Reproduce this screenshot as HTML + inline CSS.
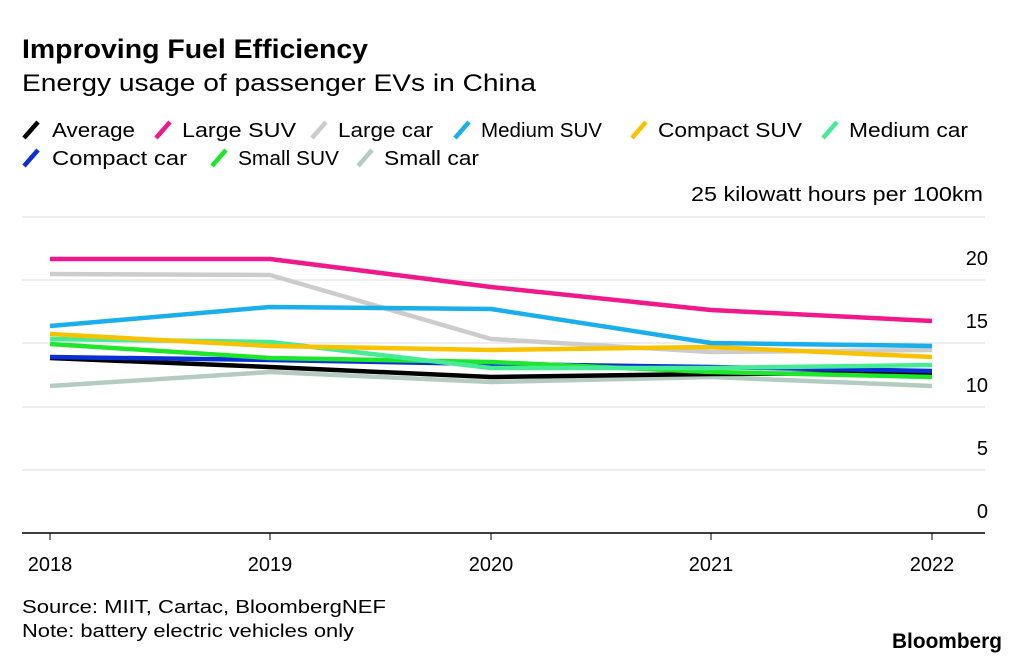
<!DOCTYPE html>
<html><head><meta charset="utf-8"><style>
body{margin:0;background:#fff;width:1024px;height:662px;overflow:hidden;font-family:"Liberation Sans",sans-serif}
</style></head><body>
<svg width="1024" height="662" xmlns="http://www.w3.org/2000/svg" font-family="Liberation Sans, sans-serif">
<text x="22" y="58" font-size="27" font-weight="bold" fill="#000" textLength="346" lengthAdjust="spacingAndGlyphs">Improving Fuel Efficiency</text>
<text x="22" y="91" font-size="24" fill="#000" textLength="514" lengthAdjust="spacingAndGlyphs">Energy usage of passenger EVs in China</text>
<g font-size="20" fill="#000" stroke-width="4.5" stroke-linecap="butt">
<line x1="24" y1="138" x2="38" y2="122" stroke="#000"/><text x="52" y="137" textLength="83" lengthAdjust="spacingAndGlyphs">Average</text>
<line x1="156" y1="138" x2="170" y2="122" stroke="#f0198c"/><text x="182" y="137" textLength="114" lengthAdjust="spacingAndGlyphs">Large SUV</text>
<line x1="312" y1="138" x2="326" y2="122" stroke="#cccccc"/><text x="338" y="137" textLength="95" lengthAdjust="spacingAndGlyphs">Large car</text>
<line x1="455" y1="138" x2="469" y2="122" stroke="#1aaeeb"/><text x="481" y="137" textLength="121" lengthAdjust="spacingAndGlyphs">Medium SUV</text>
<line x1="632" y1="138" x2="646" y2="122" stroke="#f7c200"/><text x="658" y="137" textLength="144" lengthAdjust="spacingAndGlyphs">Compact SUV</text>
<line x1="823" y1="138" x2="837" y2="122" stroke="#46eb96"/><text x="849" y="137" textLength="119" lengthAdjust="spacingAndGlyphs">Medium car</text>
<line x1="24" y1="166" x2="38" y2="150" stroke="#0a2fd6"/><text x="52" y="165" textLength="135" lengthAdjust="spacingAndGlyphs">Compact car</text>
<line x1="212" y1="166" x2="226" y2="150" stroke="#1ee62a"/><text x="238" y="165" textLength="101" lengthAdjust="spacingAndGlyphs">Small SUV</text>
<line x1="358" y1="166" x2="372" y2="150" stroke="#b4cbc2"/><text x="384" y="165" textLength="95" lengthAdjust="spacingAndGlyphs">Small car</text>
</g>
<g stroke="#dcdcdc" stroke-width="1">
<line x1="22" y1="217" x2="985" y2="217"/><line x1="22" y1="280" x2="985" y2="280"/>
<line x1="22" y1="343" x2="985" y2="343"/><line x1="22" y1="407" x2="985" y2="407"/>
<line x1="22" y1="470" x2="985" y2="470"/>
</g>
<line x1="22" y1="533" x2="985" y2="533" stroke="#000" stroke-width="1.5"/>
<g stroke="#000" stroke-width="1"><line x1="50" y1="533" x2="50" y2="540"/><line x1="270" y1="533" x2="270" y2="540"/><line x1="491" y1="533" x2="491" y2="540"/><line x1="711" y1="533" x2="711" y2="540"/><line x1="932" y1="533" x2="932" y2="540"/></g>
<g font-size="20" fill="#000" text-anchor="end">
<text x="983" y="201" textLength="292" lengthAdjust="spacingAndGlyphs">25 kilowatt hours per 100km</text>
<text x="988" y="265">20</text><text x="988" y="328">15</text><text x="988" y="392">10</text>
<text x="988" y="455">5</text><text x="988" y="518">0</text>
</g>
<g font-size="20" fill="#000" text-anchor="middle">
<text x="50" y="571">2018</text><text x="270" y="571">2019</text><text x="491" y="571">2020</text><text x="711" y="571">2021</text><text x="932" y="571">2022</text>
</g>
<g fill="none" stroke-width="4.5" stroke-linejoin="round">
<polyline stroke="#cccccc" points="50,274 270,275 491,339 711,352 932,350"/>
<polyline stroke="#b4cbc2" points="50,386 270,372 491,382 711,377 932,386"/>
<polyline stroke="#000" points="50,358 270,367 491,377 711,374 932,373"/>
<polyline stroke="#0a2fd6" points="50,357 270,360 491,364 711,367 932,371"/>
<polyline stroke="#1ee62a" points="50,344 270,358 491,362 711,372 932,377"/>
<polyline stroke="#46eb96" points="50,339 270,342 491,368 711,368 932,365"/>
<polyline stroke="#f7c200" points="50,334 270,346 491,350 711,347 932,357"/>
<polyline stroke="#1aaeeb" points="50,326 270,307 491,309 711,343 932,346"/>
<polyline stroke="#f0198c" points="50,259 270,259 491,287 711,310 932,321"/>
</g>
<text x="22" y="613" font-size="18" fill="#000" textLength="364" lengthAdjust="spacingAndGlyphs">Source: MIIT, Cartac, BloombergNEF</text>
<text x="22" y="637" font-size="18" fill="#000" textLength="332" lengthAdjust="spacingAndGlyphs">Note: battery electric vehicles only</text>
<text x="1002" y="648" font-size="21" font-weight="bold" fill="#000" text-anchor="end" textLength="110" lengthAdjust="spacingAndGlyphs">Bloomberg</text>
</svg>
</body></html>
